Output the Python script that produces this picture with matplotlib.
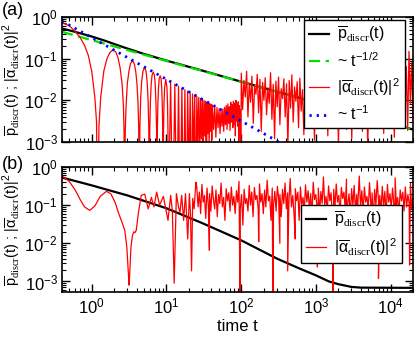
import numpy as np
import matplotlib
matplotlib.use("Agg")
import matplotlib.pyplot as plt
from matplotlib.ticker import LogLocator

plt.rcParams['font.family'] = ['Liberation Sans', 'DejaVu Sans']
plt.rcParams['mathtext.fontset'] = 'custom'
plt.rcParams['mathtext.rm'] = 'Liberation Sans'
plt.rcParams['mathtext.sf'] = 'Liberation Sans'
plt.rcParams['mathtext.tt'] = 'Liberation Serif'
plt.rcParams['axes.unicode_minus'] = False

# ---- panel (a) ----
p_a_t = [0.4, 0.6, 1, 1.5, 2, 3, 5, 10, 30, 100, 300, 1000, 3000, 1e4, 2e4]
p_a_v = [0.53, 0.44, 0.34, 0.27, 0.225, 0.175, 0.13, 0.09, 0.052, 0.028,
         0.0162, 0.0089, 0.0051, 0.0028, 0.002]

half_t = [0.4, 2e4]
half_v = [0.44, 0.00198]
one_t = [0.4, 2e4]
one_v = [0.8, 1.6e-5]

# |alpha|^2, early lobes (t, value)
alpha_a_early = [
    (0.40, 0.72), (0.50, 0.62), (0.60, 0.45), (0.70, 0.32), (0.80, 0.21),
    (0.90, 0.12), (1.00, 0.050), (1.10, 0.012), (1.16, 0.003), (1.20, 1e-5),
    (1.25, 0.0025), (1.32, 0.012), (1.45, 0.050), (1.60, 0.10), (1.75, 0.14),
    (1.92, 0.162), (2.10, 0.145), (2.25, 0.105), (2.40, 0.060), (2.55, 0.025),
    (2.65, 0.008), (2.71, 0.0018), (2.76, 1e-5), (2.81, 0.0018), (2.88, 0.007),
    (3.00, 0.026), (3.15, 0.050), (3.30, 0.076), (3.51, 0.090), (3.72, 0.075),
    (3.88, 0.050), (4.02, 0.027), (4.15, 0.010), (4.25, 0.0025), (4.33, 1e-5),
    (4.41, 0.0022), (4.52, 0.011), (4.65, 0.027), (4.85, 0.050), (5.09, 0.062),
    (5.33, 0.050), (5.52, 0.028), (5.67, 0.011), (5.80, 0.0025), (5.90, 1e-5),
    (5.99, 0.0020), (6.10, 0.009), (6.25, 0.024), (6.42, 0.040), (6.66, 0.048),
    (6.90, 0.040), (7.08, 0.024), (7.24, 0.009), (7.38, 0.0020), (7.47, 1e-5),
    (7.56, 0.0017), (7.68, 0.008), (7.83, 0.020), (8.00, 0.033), (8.24, 0.039),
    (8.48, 0.033), (8.65, 0.020), (8.80, 0.008), (8.94, 0.0017), (9.04, 1e-5),
    (9.13, 0.0015), (9.27, 0.008), (9.45, 0.020), (9.81, 0.032), (10.17, 0.020),
    (10.35, 0.008), (10.50, 0.0015), (10.61, 1e-5),
]
alpha_a_mid = [
    (11.38, 0.028), (12.17, 1e-5), (12.95, 0.0246), (13.74, 1e-5), (14.52, 0.0219),
    (15.31, 1e-5), (16.10, 0.0198), (16.88, 1e-5), (17.67, 0.018), (18.45, 1e-5),
    (19.24, 0.0165), (20.03, 2e-4), (20.81, 0.0153), (21.60, 1e-5), (22.38, 0.0142),
    (23.17, 6e-4), (23.95, 0.0133), (24.74, 1e-5), (25.52, 0.0125), (26.31, 9e-4),
    (27.10, 0.0117), (27.88, 3e-4), (28.67, 0.0111), (29.45, 1.2e-3), (30.24, 0.0105),
    (31.0, 5e-4), (31.81, 0.0100), (32.6, 1.4e-3), (33.38, 0.0095), (34.2, 1e-5),
    (34.95, 0.0091), (35.7, 1.6e-3), (36.52, 0.0087), (37.3, 9e-4), (38.10, 0.0083),
    (38.9, 1.8e-3), (39.67, 0.0080), (40.5, 1.1e-3), (41.24, 0.0077), (42.8, 2.0e-3),
    (44.38, 0.0072), (45.9, 1.3e-3), (47.52, 0.0067), (49.1, 2.2e-3), (50.67, 0.0063),
    (52.2, 1.6e-3), (53.81, 0.0060), (55.4, 2.4e-3), (56.95, 0.0062), (58.5, 1.8e-3),
    (60.10, 0.0068), (61.7, 2.6e-3), (63.24, 0.0075), (64.8, 2.0e-3), (66.38, 0.0082),
    (68.0, 2.8e-3), (69.52, 0.0070), (71.1, 1.9e-3), (72.67, 0.0090), (74.2, 3.0e-3),
    (75.81, 0.0078), (77.4, 2.2e-3), (78.95, 0.0095), (80.5, 2.6e-3), (82.10, 0.0085),
    (83.7, 1.4e-3), (85.24, 0.0100), (86.8, 3.2e-3), (88.38, 0.0080), (90.0, 2.4e-3),
    (91.52, 0.0092), (93.1, 7e-4), (94.67, 0.0075), (96.2, 2.0e-3), (97.8, 0.006),
    (99.0, 1e-4),
]
# noisy part after the revival, t = 100.5 .. 2e4
alpha_a_late = [
    0.045, 0.006, 0.030, 0.012, 0.050, 0.004, 0.026, 0.009, 0.038, 0.0028,
    0.022, 0.014, 0.042, 0.005, 0.032, 0.0018, 0.027, 0.010, 0.035, 0.0045,
    0.020, 0.0085, 0.046, 0.0035, 0.024, 0.0012, 0.029, 0.007, 0.036, 0.0026,
    0.019, 0.011, 0.033, 0.0040, 0.025, 0.0008, 0.030, 0.0065, 0.041, 0.0030,
    0.021, 0.0095, 0.028, 0.0022, 0.034, 0.0055, 0.018, 0.0015, 0.031, 0.0075,
    0.024, 0.0035, 0.039, 0.0048, 0.020, 0.0011, 0.027, 0.0060, 0.035, 0.0025,
    0.022, 0.0090, 0.044, 0.0032, 0.026, 0.0014, 0.031, 0.0070, 0.020, 0.0028,
    0.038, 0.0050, 0.024, 0.0009, 0.029, 0.0080, 0.047, 0.0036, 0.019, 0.0020,
    0.033, 0.0062, 0.025, 0.0012, 0.036, 0.0045, 0.052, 0.0030, 0.023, 0.0085,
    0.030, 0.0018, 0.041, 0.0055, 0.027, 0.0007, 0.034, 0.0040, 0.060, 0.0065,
    0.028, 0.0022, 0.045, 0.0033, 0.021, 0.0100, 0.038, 0.0016, 0.055, 0.0048,
    0.031, 0.0026, 0.070, 0.0058, 0.026, 0.0013, 0.048, 0.0038, 0.090, 0.0070,
    0.040, 0.0024, 0.120, 0.0050, 0.065, 0.0019, 0.150, 0.0085, 0.080, 0.0030,
]

# ---- panel (b) ----
p_b_t = [0.4, 1, 3, 10, 30, 100, 300, 600, 1000, 1500, 2000, 3000, 4000, 2e4]
p_b_v = [0.53, 0.33, 0.18, 0.083, 0.034, 0.012, 0.0040, 0.0022, 0.00145,
         0.00100, 0.00085, 0.00072, 0.00069, 0.00068]

alpha_b_early = [
    (0.40, 0.58), (0.50, 0.42), (0.60, 0.25), (0.70, 0.14), (0.80, 0.090),
    (0.94, 0.073), (1.10, 0.095), (1.30, 0.170), (1.57, 0.230), (1.80, 0.200),
    (2.05, 0.120), (2.30, 0.060), (2.55, 0.035), (2.77, 0.022), (2.95, 0.008),
    (3.10, 0.0015), (3.16, 0.0008), (3.22, 0.0015), (3.35, 0.008), (3.51, 0.016),
    (3.65, 0.020), (3.78, 0.019), (3.95, 0.022), (4.20, 0.060), (4.60, 0.180),
    (5.13, 0.195), (5.70, 0.080), (6.30, 0.160), (6.80, 0.090), (7.40, 0.220),
    (8.10, 0.100), (9.10, 0.170), (10.0, 0.065), (10.5, 0.040), (11.4, 0.180),
    (12.0, 0.070), (12.7, 0.0009), (13.6, 0.200), (14.5, 0.090), (15.2, 0.065),
    (16.0, 0.180), (17.0, 0.040), (18.0, 0.200), (19.3, 0.013), (20.3, 0.200),
    (21.0, 0.060), (21.7, 0.0019), (22.5, 0.150), (23.5, 0.080), (24.8, 0.400),
]
alpha_b_late = [
    0.30, 0.09, 0.22, 0.06, 0.35, 0.12, 0.18, 0.045, 0.28, 0.10,
    0.20, 0.07, 0.32, 0.14, 0.08, 0.25, 0.05, 0.19, 0.11, 0.38,
    0.09, 0.16, 0.04, 0.27, 0.13, 0.21, 0.07, 0.30, 0.10, 0.17,
    0.06, 0.24, 0.12, 0.42, 0.08, 0.19, 0.03, 0.26, 0.11, 0.15,
    0.07, 0.33, 0.10, 0.22, 0.05, 0.29, 0.14, 0.18, 0.08, 0.36,
    0.12, 0.20, 0.06, 0.25, 0.09, 0.45, 0.13, 0.17, 0.04, 0.28,
    0.10, 0.23, 0.07, 0.31, 0.15, 0.19, 0.05, 0.26, 0.11, 0.38,
    0.08, 0.21, 0.12, 0.50, 0.09, 0.18, 0.06, 0.27, 0.13, 0.22,
    0.04, 0.30, 0.10, 0.16, 0.07, 0.34, 0.12, 0.24, 0.08, 0.20,
    0.05, 0.40, 0.14, 0.19, 0.09, 0.28, 0.06, 0.23, 0.11, 0.55,
    0.10, 0.17, 0.07, 0.32, 0.13, 0.21, 0.04, 0.26, 0.09, 0.36,
    0.12, 0.18, 0.06, 0.29, 0.15, 0.22, 0.08, 0.48, 0.11, 0.20,
    0.05, 0.27, 0.10, 0.33, 0.07, 0.19, 0.13, 0.58, 0.09, 0.24,
    0.06, 0.30, 0.12, 0.17, 0.08, 0.39, 0.11, 0.21, 0.04, 0.26,
    0.10, 0.44, 0.14, 0.18, 0.07, 0.31, 0.09, 0.23, 0.05, 0.35,
    0.12, 0.20, 0.08, 0.28, 0.11, 0.52, 0.10, 0.16, 0.06, 0.25,
    0.13, 0.22, 0.07, 0.30, 0.09, 0.19, 0.11, 0.37, 0.08, 0.15,
]
# deep downward spikes in panel (b)
spike_b_t = [37.6, 97, 172, 266, 330, 420, 530, 1050, 1700, 2600, 3600, 5500, 6900, 11500, 18000]
spike_b_v = [6.6e-3, 1e-4, 0.011, 1e-4, 0.010, 1.9e-3, 0.013, 2.4e-3, 1e-4, 5e-3, 8e-3,
             3.6e-3, 1.2e-3, 6e-3, 2.7e-3]

lab_p = r'$\overline{\mathrm{p}}_{\mathtt{discr}}\mathrm{(t)}$'
lab_a = r'$|\overline{\mathrm{\alpha}}_{\mathtt{discr}}\mathrm{(t)}|^{2}$'
lab_half = r'~ t$^{-1/2}$'
lab_one = r'~ t$^{-1}$'
ylab = lab_p + ' ; ' + lab_a


def unzip(pairs):
    return [p[0] for p in pairs], [p[1] for p in pairs]


# build series
ea_t, ea_v = unzip(alpha_a_early)
ma_t, ma_v = unzip(alpha_a_mid)
la_t = np.geomspace(100.5, 2e4, len(alpha_a_late))
alpha_a_t = np.concatenate([ea_t, ma_t, la_t])
alpha_a_v = np.concatenate([ea_v, ma_v, alpha_a_late])

eb_t, eb_v = unzip(alpha_b_early)
lb_t = np.geomspace(25.5, 2e4, len(alpha_b_late))
tmp_t = np.concatenate([lb_t, spike_b_t])
tmp_v = np.concatenate([alpha_b_late, spike_b_v])
order = np.argsort(tmp_t)
alpha_b_t = np.concatenate([eb_t, tmp_t[order]])
alpha_b_v = np.concatenate([eb_v, tmp_v[order]])

W, H = 415, 337
fig = plt.figure(figsize=(W / 100, H / 100), dpi=100)
ax1 = fig.add_axes([62 / W, 1 - 142 / H, 351 / W, 125 / H])
ax2 = fig.add_axes([62 / W, 1 - 292 / H, 351 / W, 125 / H])

ax1.plot(p_a_t, p_a_v, color='black', lw=1.6, label=lab_p)
ax1.plot(half_t, half_v, color='#00e000', lw=1.6, dashes=(5, 2.5), label=lab_half)
ax1.plot(alpha_a_t, alpha_a_v, color='red', lw=0.9, label=lab_a)
ax1.plot(one_t, one_v, color='blue', lw=2, dashes=(0.8, 1.8), label=lab_one)
ax1.set_ylim(1e-3, 1)

ax2.plot(p_b_t, p_b_v, color='black', lw=1.6, label=lab_p)
ax2.plot(alpha_b_t, alpha_b_v, color='red', lw=0.9, label=lab_a)
ax2.set_ylim(5.3e-4, 1)
ax2.set_xlabel('time t', fontsize=12, labelpad=2)

for ax in (ax1, ax2):
    ax.set_xscale('log')
    ax.set_yscale('log')
    ax.set_xlim(0.4, 2e4)
    for axis in (ax.xaxis, ax.yaxis):
        axis.set_major_locator(LogLocator(base=10, numticks=20))
        axis.set_minor_locator(LogLocator(base=10, subs=np.arange(2, 10), numticks=20))
    ax.set_ylabel(ylab, fontsize=10.5, labelpad=1)
    ax.tick_params(which='both', direction='in', top=True, right=True, labelsize=12, pad=3)
    ax.tick_params(which='major', length=6, width=1)
    ax.tick_params(which='minor', length=3, width=0.8)
    for s in ax.spines.values():
        s.set_linewidth(1.2)
ax1.tick_params(labelbottom=False)

leg_kw = dict(loc='upper right', fancybox=False, edgecolor='black', framealpha=1,
              fontsize=11.5, handlelength=1.25, handletextpad=0.55, labelspacing=0.4,
              borderpad=0.3, borderaxespad=0)
leg1 = ax1.legend(bbox_to_anchor=(0.977, 0.976), **leg_kw)
leg1.get_frame().set_linewidth(1.0)
leg2 = ax2.legend(bbox_to_anchor=(0.969, 0.696), **leg_kw)
leg2.get_frame().set_linewidth(1.0)

fig.text(2 / W, 1 - 2 / H, '(a)', fontsize=13, va='top', ha='left')
fig.text(2 / W, 1 - 156 / H, '(b)', fontsize=13, va='top', ha='left')

fig.savefig('out.png', dpi=100)
